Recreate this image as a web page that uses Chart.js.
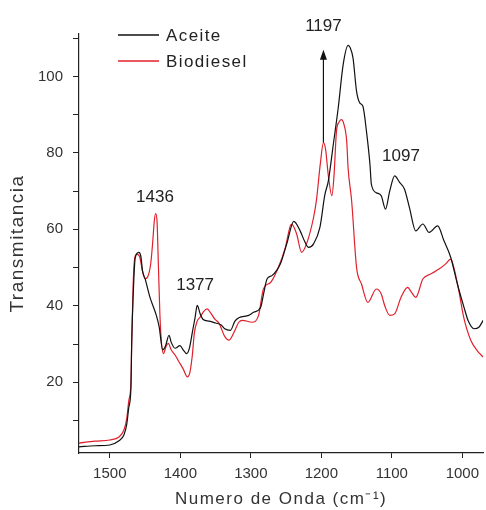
<!DOCTYPE html>
<html><head><meta charset="utf-8">
<script src="https://cdn.jsdelivr.net/npm/chart.js@4/dist/chart.umd.min.js"></script>
<style>html,body{margin:0;padding:0;background:#fff}#wrap{width:486px;height:510px}</style>
</head><body><div id="wrap"><canvas id="c" width="486" height="510"></canvas></div>
<script>
const seriesNames = ['Aceite', 'Biodiesel'];
const aceiteWavenumber = [1544,1521,1500,1487,1480,1476,1473,1470,1469,1467,1464,1459,1456,1453.5,1450,1443,1434,1430,1425,1421,1416,1413,1407.5,1400.4,1396,1391,1387,1383,1379,1376,1372,1368,1359,1350,1342,1337,1329,1322.5,1317,1303,1296,1286,1282,1277,1270,1258,1249,1239,1230,1224,1218,1211,1202,1195,1190,1183,1176,1169,1162,1159,1155,1150,1145.5,1141,1136,1131,1129,1122,1115,1109,1103,1096,1089,1082,1075,1066,1056,1047,1035,1026,1016.5,1007,997.6,991.5,983.5,976.5,970.4];
const aceiteTransmitancia = [3.1,3.4,3.6,4.7,6.2,9,13.5,18.7,30,42,52.5,54,53,49,47.1,42.2,37.5,34.5,28.5,29.5,32.3,30.5,28.9,29.6,28.5,27.5,29,33,37,40.1,38,36.5,36,35.5,35,34,33.6,36,36.9,37.5,38.3,39.6,43,47,47.9,51,56.2,62.1,59.6,57,55.3,56.2,60.5,69,72.7,82.2,91.8,103.1,108.1,107.5,104.8,96.1,93.1,92.2,85.7,77,71.8,69.6,68.8,65.3,70,74,72.3,70.5,65.7,59.6,61.4,59.2,60.9,57,52.7,45.7,39.6,36,34,34.4,36.2];
const biodieselWavenumber = [1544,1521,1500,1487,1480,1476,1473,1470,1469,1467,1465,1462,1458,1453.5,1450,1446.5,1442,1439,1437,1435,1433,1431,1429,1427,1424,1420,1417,1413,1407,1403,1396,1390,1386.5,1383,1380,1376,1372,1367,1362,1356.5,1351,1345,1337,1331,1324,1317,1312,1298,1289,1282,1272,1261,1251,1244,1242,1235,1228,1221,1211,1207,1201.5,1197,1194,1190,1185,1182,1178.5,1175,1171.5,1168,1164,1162,1157,1150,1143,1134,1122,1115,1110,1103,1096,1087,1077.5,1072,1066,1056,1045,1033,1024,1016.5,1012,1005,998,988,979,970.4];
const biodieselTransmitancia = [4.1,4.6,4.9,5.7,7.5,10.5,15.3,20,30,45,52,53.5,53,49,47.1,47.5,51,57,62,64.1,62,50,38,31,27.5,29.5,30.2,28.5,27,25.7,23.5,21.4,22.5,27,33,36,37,38.5,39.2,38,36.5,35.4,32,31,33,35.7,36.2,35.7,37.5,44.5,46.1,50,55.3,60.9,61.3,58.8,54,56.2,63.1,67.5,77,82.7,81,74,68.8,74,85.7,88,88.7,87.5,83.1,76,67.5,50,45.7,40.9,44.4,43.1,40,37.5,37.9,42.2,44.8,43.5,42.2,47,48.3,49.6,50.9,52.2,50,44,37,31,28.3,26.6];
const xTickValues = [1500,1400,1300,1200,1100,1000];
const yTickValues = [10,20,30,40,50,60,70,80,90,100,110];
const yLabelledTicks = [20,40,60,80,100];
const peakLabels = ['1436','1377','1197','1097'];
const peakLabelWavenumber = [1436,1379,1197,1087];
const peakLabelTransmitancia = [68.5,45.3,113,79.2];
const arrowWavenumber = 1197;
const arrowFrom = 82.7;
const arrowTo = 107;
const xAxisTitle = 'Numero de Onda (cm\u207B\u00B9)';
const yAxisTitle = 'Transmitancia';
const seriesColors = ['#111111', '#e0202c'];

const toPoints = (xs, ys) => xs.map((x, i) => ({x: x, y: ys[i]}));

const spacingPlugin = {
  id: 'spacing',
  beforeDraw(chart) { chart.ctx.letterSpacing = '1.5px'; },
  beforeDatasetsDraw(chart) { chart.ctx.letterSpacing = '0px'; },
  afterDraw(chart) {
    const ctx = chart.ctx;
    const xs = chart.scales.x, ys = chart.scales.y;
    const ca = chart.chartArea;
    ctx.save();
    const ax = xs.getPixelForValue(arrowWavenumber);
    const y0 = ys.getPixelForValue(arrowFrom), y1 = ys.getPixelForValue(arrowTo);
    ctx.strokeStyle = '#111'; ctx.fillStyle = '#111'; ctx.lineWidth = 1.2;
    ctx.beginPath(); ctx.moveTo(ax, y0); ctx.lineTo(ax, y1 + 6); ctx.stroke();
    ctx.beginPath(); ctx.moveTo(ax, y1); ctx.lineTo(ax - 3.5, y1 + 10); ctx.lineTo(ax + 3.5, y1 + 10); ctx.closePath(); ctx.fill();
    ctx.letterSpacing = '0px';
    ctx.font = '17px "Liberation Sans", Arial, sans-serif';
    ctx.fillStyle = '#222';
    ctx.textAlign = 'center'; ctx.textBaseline = 'middle';
    peakLabels.forEach((t, i) => {
      ctx.fillText(t, xs.getPixelForValue(peakLabelWavenumber[i]), ys.getPixelForValue(peakLabelTransmitancia[i]));
    });
    ctx.letterSpacing = '1.4px';
    ctx.textAlign = 'left';
    seriesNames.forEach((name, i) => {
      const ly = 35 + i * 26;
      ctx.strokeStyle = seriesColors[i]; ctx.lineWidth = 1.3;
      ctx.beginPath(); ctx.moveTo(ca.left + 39, ly); ctx.lineTo(ca.left + 80, ly); ctx.stroke();
      ctx.fillStyle = '#222';
      ctx.fillText(name, ca.left + 87, ly + 1);
    });
    ctx.restore();
  }
};

new Chart(document.getElementById('c'), {
  type: 'line',
  data: {
    datasets: [
      {label: seriesNames[0], data: toPoints(aceiteWavenumber, aceiteTransmitancia), borderColor: seriesColors[0], borderWidth: 1.2, pointRadius: 0, cubicInterpolationMode: 'monotone', fill: false},
      {label: seriesNames[1], data: toPoints(biodieselWavenumber, biodieselTransmitancia), borderColor: seriesColors[1], borderWidth: 1.2, pointRadius: 0, cubicInterpolationMode: 'monotone', fill: false}
    ]
  },
  options: {
    responsive: false,
    animation: false,
    devicePixelRatio: 1,
    layout: {padding: {top: 34, right: 0, left: 0, bottom: 0}},
    plugins: {legend: {display: false}, tooltip: {enabled: false}},
    scales: {
      x: {
        type: 'linear', reverse: true, min: 970.4, max: 1543.7,
        afterBuildTicks: s => { s.ticks = xTickValues.map(v => ({value: v})); },
        afterFit: s => { s.height = 57; },
        grid: {display: true, drawOnChartArea: false, drawTicks: true, tickLength: 5, color: '#222'},
        border: {display: true, color: '#222', width: 1.2},
        ticks: {z: 1, padding: 7, color: '#333', font: {family: '"Liberation Sans", Arial, sans-serif', size: 15}, callback: v => String(v), maxRotation: 0, autoSkip: false},
        title: {display: true, text: xAxisTitle, color: '#333', font: {family: '"Liberation Sans", Arial, sans-serif', size: 17}, padding: {top: 0, bottom: 0}}
      },
      y: {
        type: 'linear', min: 1.5, max: 111.1,
        afterBuildTicks: s => { s.ticks = yTickValues.map(v => ({value: v})); },
        afterFit: s => { s.width = 79; },
        grid: {display: true, drawOnChartArea: false, drawTicks: true, tickLength: 6, color: '#222'},
        border: {display: true, color: '#222', width: 1.2},
        ticks: {z: 1, padding: 10, color: '#333', font: {family: '"Liberation Sans", Arial, sans-serif', size: 15}, callback: v => yLabelledTicks.includes(v) ? String(v) : '', autoSkip: false},
        title: {display: true, text: yAxisTitle, color: '#333', font: {family: '"Liberation Sans", Arial, sans-serif', size: 19}, padding: {top: 6, bottom: 0}}
      }
    }
  },
  plugins: [spacingPlugin]
});
</script></body></html>
